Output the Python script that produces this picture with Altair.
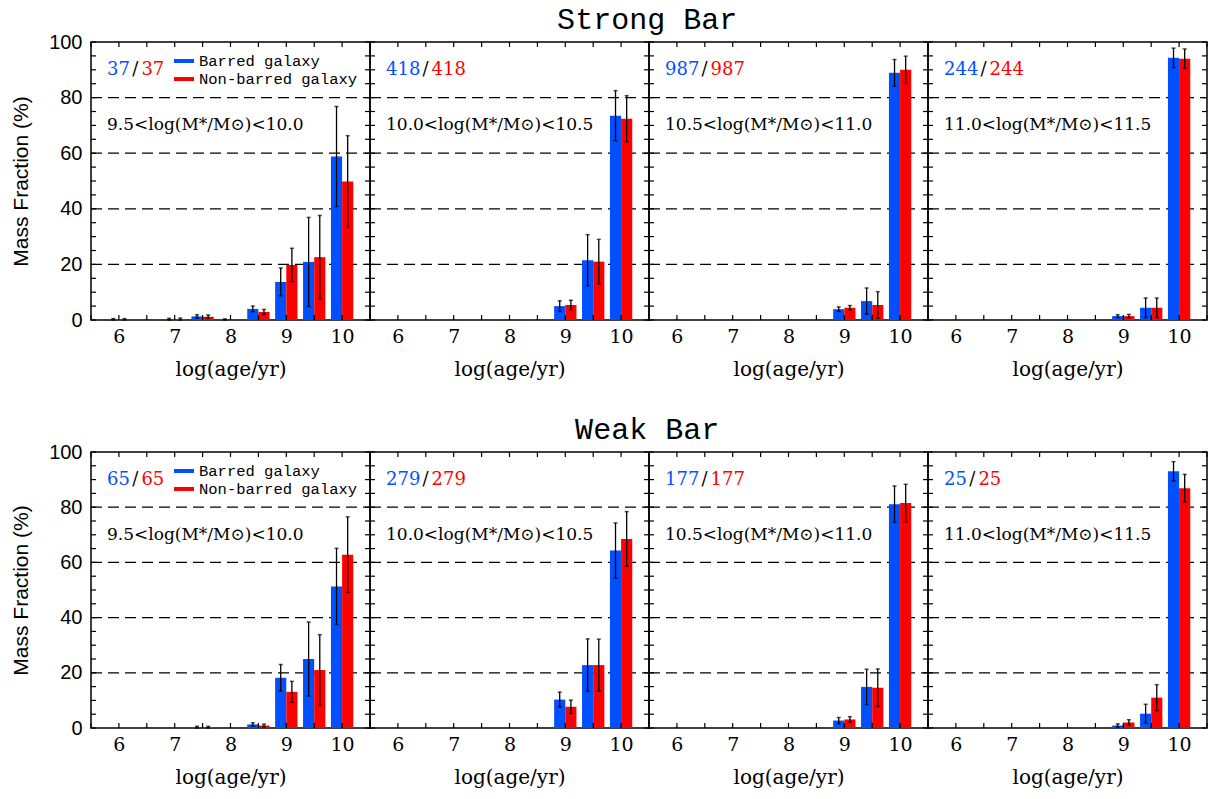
import altair as alt
import pandas as pd

# ---------------- data ----------------
AGES = [6.0, 6.5, 7.0, 7.5, 8.0, 8.5, 9.0, 9.5, 10.0]

# Strong bar panels
strong_labels = ["9.5<log(M*/M⊙)<10.0", "10.0<log(M*/M⊙)<10.5",
                 "10.5<log(M*/M⊙)<11.0", "11.0<log(M*/M⊙)<11.5"]
strong_counts = ["37", "418", "987", "244"]
strong_blue = [
    [0.2, 0.0, 0.2, 1.3, 0.1, 4.0, 13.7, 20.9, 58.8],
    [0.0, 0.0, 0.0, 0.0, 0.0, 0.0, 5.0, 21.5, 73.5],
    [0.0, 0.0, 0.0, 0.0, 0.0, 0.0, 3.9, 6.8, 88.9],
    [0.0, 0.0, 0.0, 0.0, 0.0, 0.0, 1.4, 4.4, 94.3],
]
strong_blue_err = [
    [0.3, 0.0, 0.4, 0.6, 0.3, 1.0, 5.0, 16.0, 18.0],
    [0.0, 0.0, 0.0, 0.0, 0.0, 0.0, 1.9, 9.2, 9.0],
    [0.0, 0.0, 0.0, 0.0, 0.0, 0.0, 0.8, 4.7, 4.8],
    [0.0, 0.0, 0.0, 0.0, 0.0, 0.0, 0.5, 3.5, 3.5],
]
strong_red = [
    [0.2, 0.0, 0.3, 1.2, 0.0, 2.9, 19.8, 22.6, 49.8],
    [0.0, 0.0, 0.0, 0.0, 0.0, 0.0, 5.4, 21.0, 72.4],
    [0.0, 0.0, 0.0, 0.0, 0.0, 0.0, 4.4, 5.4, 90.0],
    [0.0, 0.0, 0.0, 0.0, 0.0, 0.0, 1.4, 4.4, 94.0],
]
strong_red_err = [
    [0.3, 0.0, 0.4, 0.6, 0.0, 0.9, 6.0, 15.0, 16.5],
    [0.0, 0.0, 0.0, 0.0, 0.0, 0.0, 1.7, 8.0, 8.3],
    [0.0, 0.0, 0.0, 0.0, 0.0, 0.0, 0.8, 4.8, 4.9],
    [0.0, 0.0, 0.0, 0.0, 0.0, 0.0, 0.6, 3.5, 3.5],
]

# Weak bar panels
weak_labels = strong_labels
weak_counts = ["65", "279", "177", "25"]
weak_blue = [
    [0.0, 0.0, 0.0, 0.3, 0.0, 1.3, 18.2, 25.0, 51.3],
    [0.0, 0.0, 0.0, 0.0, 0.0, 0.0, 10.3, 22.8, 64.3],
    [0.0, 0.0, 0.0, 0.0, 0.0, 0.0, 2.7, 14.9, 81.1],
    [0.0, 0.0, 0.0, 0.0, 0.0, 0.0, 0.9, 5.2, 93.0],
]
weak_blue_err = [
    [0.0, 0.0, 0.0, 0.3, 0.0, 0.6, 4.8, 13.4, 13.8],
    [0.0, 0.0, 0.0, 0.0, 0.0, 0.0, 2.7, 9.5, 10.0],
    [0.0, 0.0, 0.0, 0.0, 0.0, 0.0, 1.1, 6.4, 6.6],
    [0.0, 0.0, 0.0, 0.0, 0.0, 0.0, 0.6, 3.4, 3.5],
]
weak_red = [
    [0.0, 0.0, 0.0, 0.3, 0.0, 0.9, 13.1, 21.0, 62.8],
    [0.0, 0.0, 0.0, 0.0, 0.0, 0.0, 7.7, 22.8, 68.5],
    [0.0, 0.0, 0.0, 0.0, 0.0, 0.0, 3.1, 14.6, 81.5],
    [0.0, 0.0, 0.0, 0.0, 0.0, 0.0, 2.0, 11.0, 86.9],
]
weak_red_err = [
    [0.0, 0.0, 0.0, 0.3, 0.0, 0.5, 3.8, 12.8, 13.7],
    [0.0, 0.0, 0.0, 0.0, 0.0, 0.0, 2.4, 9.4, 9.9],
    [0.0, 0.0, 0.0, 0.0, 0.0, 0.0, 1.0, 6.8, 6.8],
    [0.0, 0.0, 0.0, 0.0, 0.0, 0.0, 1.0, 4.7, 5.0],
]

X_TICK_LABELS = [6, 7, 8, 9, 10]
Y_TICK_LABELS = [0, 20, 40, 60, 80, 100]
GRID_LEVELS = [20, 40, 60, 80]
Y_MINOR = list(range(0, 101, 5))
X_MINOR = [5.5 + 0.5 * i for i in range(11)]
SERIES = ["Barred galaxy", "Non-barred galaxy"]

# ---------------- style ----------------
W = 279
BLUE = "#0050ff"
RED = "#ff0000"
SERIF = "DejaVu Serif"
MONO = "Liberation Mono"
SANS = "Liberation Sans"
BAR_W = 0.2
TICK = 5
DIGIT_W = 11.2
SLASH_W = 12


def make_df(blue, berr, red, rerr):
    rows = []
    for a, v, e in zip(AGES, blue, berr):
        rows.append(dict(series=SERIES[0], x0=a - BAR_W, x1=a, xc=a - BAR_W / 2,
                         v=v, lo=max(0.0, v - e), hi=v + e, e=e))
    for a, v, e in zip(AGES, red, rerr):
        rows.append(dict(series=SERIES[1], x0=a, x1=a + BAR_W, xc=a + BAR_W / 2,
                         v=v, lo=max(0.0, v - e), hi=v + e, e=e))
    return pd.DataFrame(rows)


def panel(df, count, label, show_y, show_legend, H):
    xs = alt.Scale(domain=[5.5, 10.5], nice=False, zero=False)
    ys = alt.Scale(domain=[0, 100], nice=False)
    xaxis = alt.Axis(values=X_TICK_LABELS, ticks=False, domain=False, grid=False,
                     labelFont=SERIF, labelFontSize=19, labelPadding=7,
                     labelColor="black", labelAngle=0,
                     title="log(age/yr)", titleFont=SERIF, titleFontSize=20,
                     titleFontWeight="normal", titlePadding=13, titleColor="black")
    if show_y:
        yaxis = alt.Axis(values=Y_TICK_LABELS, ticks=False, domain=False, grid=False,
                         labelFont=SANS, labelFontSize=20, labelPadding=9,
                         labelColor="black",
                         title="Mass Fraction (%)", titleFont=SANS, titleFontSize=21,
                         titleFontWeight="normal", titlePadding=17, titleColor="black")
    else:
        yaxis = None

    def X(field):
        return alt.X(field, type="quantitative", scale=xs, axis=xaxis)

    def Y(field):
        return alt.Y(field, type="quantitative", scale=ys, axis=yaxis)

    grid = alt.Chart(pd.DataFrame({"g": GRID_LEVELS})).mark_rule(
        color="black", strokeWidth=1.3, strokeDash=[11, 6]
    ).encode(y=Y("g"), x=alt.value(0), x2=alt.value(W))

    bars = alt.Chart(df).mark_bar(stroke=None).encode(
        x=X("x0"), x2="x1", y=Y("v"), y2=alt.Y2("lo0:Q"),
        color=alt.Color("series:N", scale=alt.Scale(domain=SERIES, range=[BLUE, RED]),
                        legend=None),
    ).transform_calculate(lo0="0")

    edf = df[df["e"] > 0]
    err = alt.Chart(edf).mark_rule(color="black", strokeWidth=1.3).encode(
        x=X("xc"), y=Y("lo"), y2="hi")
    cap_lo = alt.Chart(edf).mark_tick(color="black", orient="horizontal",
                                      size=4, thickness=1.5).encode(x=X("xc"), y=Y("lo"))
    cap_hi = alt.Chart(edf).mark_tick(color="black", orient="horizontal",
                                      size=4, thickness=1.5).encode(x=X("xc"), y=Y("hi"))

    ydf = pd.DataFrame({"t": Y_MINOR})
    xdf = pd.DataFrame({"t": X_MINOR})
    tl = alt.Chart(ydf).mark_rule(color="black", strokeWidth=1.2).encode(
        y=Y("t"), x=alt.value(0), x2=alt.value(TICK))
    tr = alt.Chart(ydf).mark_rule(color="black", strokeWidth=1.2).encode(
        y=Y("t"), x=alt.value(W - TICK), x2=alt.value(W))
    tb = alt.Chart(xdf).mark_rule(color="black", strokeWidth=1.2).encode(
        x=X("t"), y=alt.value(H - TICK), y2=alt.value(H))
    tt = alt.Chart(xdf).mark_rule(color="black", strokeWidth=1.2).encode(
        x=X("t"), y=alt.value(0), y2=alt.value(TICK))

    one = pd.DataFrame({"k": [0]})
    x_slash = 16 + len(count) * DIGIT_W + SLASH_W / 2
    cnt_b = alt.Chart(one).mark_text(font=SERIF, fontSize=18, align="left",
                                     baseline="middle", color=BLUE, text=count).encode(
        x=alt.value(16), y=alt.value(28))
    cnt_s = alt.Chart(one).mark_text(font=SERIF, fontSize=18, align="center",
                                     baseline="middle", color="black", text="/").encode(
        x=alt.value(x_slash), y=alt.value(28))
    cnt_r = alt.Chart(one).mark_text(font=SERIF, fontSize=18, align="left",
                                     baseline="middle", color=RED, text=count).encode(
        x=alt.value(x_slash + SLASH_W / 2), y=alt.value(28))
    mlab = alt.Chart(one).mark_text(font=SERIF, fontSize=17, align="left",
                                    baseline="middle", color="black", text=label).encode(
        x=alt.value(16), y=alt.value(83))

    layers = [grid, bars, err, cap_lo, cap_hi, tl, tr, tb, tt, cnt_b, cnt_s, cnt_r, mlab]

    if show_legend:
        ldf = pd.DataFrame({"series": SERIES, "yy": [19, 37]})
        sw = alt.Chart(ldf).mark_rule(strokeWidth=4).encode(
            x=alt.value(83), x2=alt.value(103), y=alt.Y("yy:Q", scale=None),
            color=alt.Color("series:N", scale=alt.Scale(domain=SERIES, range=[BLUE, RED]),
                            legend=None))
        lt = alt.Chart(ldf).mark_text(font=MONO, fontSize=15.5, align="left",
                                      baseline="middle", color="black").encode(
            x=alt.value(108), y=alt.Y("yy:Q", scale=None), text="series:N")
        layers += [sw, lt]

    return alt.layer(*layers).properties(width=W, height=H)


def row(title, counts, labels, blues, berrs, reds, rerrs, H):
    panels = []
    for i in range(4):
        df = make_df(blues[i], berrs[i], reds[i], rerrs[i])
        panels.append(panel(df, counts[i], labels[i], i == 0, i == 0, H))
    return alt.hconcat(*panels, spacing=0, bounds="flush").properties(
        title=alt.TitleParams(title, font=MONO, fontSize=30, fontWeight="normal",
                              anchor="middle", color="black", offset=-4, dx=38))


top = row("Strong Bar", strong_counts, strong_labels,
          strong_blue, strong_blue_err, strong_red, strong_red_err, 278)
bottom = row("Weak Bar", weak_counts, weak_labels,
             weak_blue, weak_blue_err, weak_red, weak_red_err, 276)

chart = alt.vconcat(top, bottom, spacing=35).properties(
    padding={"left": 9, "top": 5, "right": 5, "bottom": 2},
    background="white",
).configure_view(stroke="black", strokeWidth=1.5)

chart.save("out.html", embed_options={"renderer": "svg", "actions": False})
